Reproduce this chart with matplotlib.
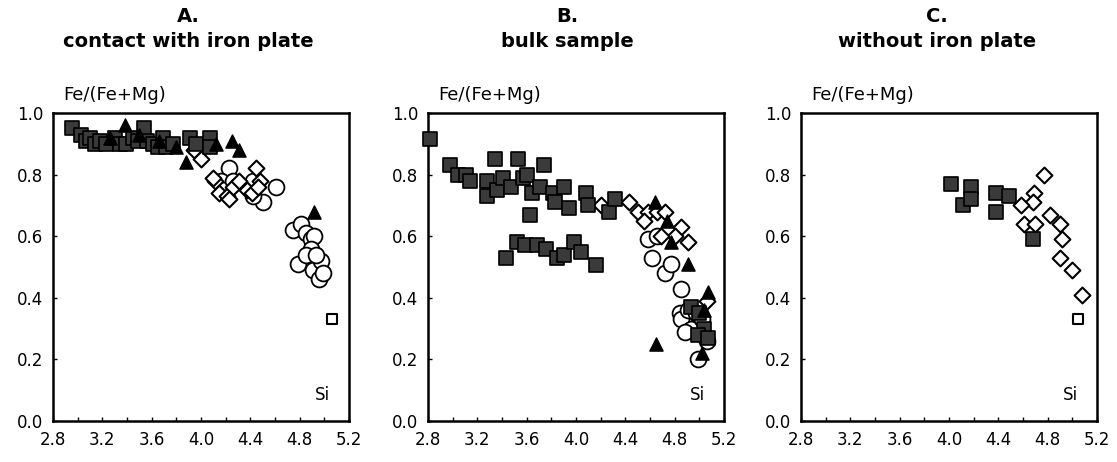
import matplotlib.pyplot as plt
import numpy as np

plt.rcParams["font.family"] = ["DejaVu Sans"]

# ---- panel A: contact with iron plate ----
a_sq_x = [2.95, 3.03, 3.07, 3.10, 3.14, 3.18, 3.23, 3.30, 3.34, 3.39, 3.45, 3.49, 3.54, 3.56, 3.61,
          3.65, 3.69, 3.72, 3.77, 3.91, 3.96, 4.07, 4.07]
a_sq_y = [0.95, 0.93, 0.91, 0.92, 0.90, 0.91, 0.90, 0.92, 0.90, 0.90, 0.92, 0.91, 0.95, 0.91, 0.90,
          0.89, 0.92, 0.89, 0.90, 0.92, 0.90, 0.92, 0.89]
a_tri_x = [3.38, 3.26, 3.50, 3.66, 3.80, 3.88, 4.12, 4.25, 4.31, 4.92]
a_tri_y = [0.96, 0.92, 0.93, 0.91, 0.89, 0.84, 0.90, 0.91, 0.88, 0.68]
a_dia_x = [3.94, 4.00, 4.11, 4.15, 4.21, 4.26, 4.31, 4.37, 4.41, 4.45, 4.48, 4.23, 4.10, 4.46]
a_dia_y = [0.88, 0.85, 0.78, 0.74, 0.73, 0.76, 0.78, 0.75, 0.74, 0.82, 0.78, 0.72, 0.79, 0.76]
a_cir_x = [4.23, 4.16, 4.18, 4.26, 4.42, 4.50, 4.61, 4.42, 4.75, 4.81, 4.85, 4.89, 4.92,
           4.79, 4.89, 4.91, 4.97, 4.96, 4.99, 4.85, 4.93]
a_cir_y = [0.82, 0.78, 0.75, 0.78, 0.78, 0.71, 0.76, 0.73, 0.62, 0.64, 0.61, 0.59, 0.60,
           0.51, 0.56, 0.49, 0.52, 0.46, 0.48, 0.54, 0.54]
a_osq_x = [5.06]
a_osq_y = [0.33]

# ---- panel B: bulk sample ----
b_sq_x = [2.82, 2.98, 3.04, 3.11, 3.14, 3.28, 3.34, 3.28, 3.36, 3.41, 3.47, 3.53, 3.57, 3.60,
          3.64, 3.63, 3.71, 3.74, 3.81, 3.83, 3.90, 3.94, 4.08, 4.10, 4.27, 4.32,
          3.43, 3.52, 3.59, 3.68, 3.76, 3.85, 3.90, 3.98, 4.04, 4.16,
          4.93, 5.00, 5.04, 4.99, 5.07]
b_sq_y = [0.915, 0.83, 0.80, 0.80, 0.78, 0.78, 0.85, 0.73, 0.75, 0.79, 0.76, 0.85, 0.79, 0.80,
          0.74, 0.67, 0.76, 0.83, 0.74, 0.71, 0.76, 0.69, 0.74, 0.70, 0.68, 0.72,
          0.53, 0.58, 0.57, 0.57, 0.56, 0.53, 0.54, 0.58, 0.55, 0.505,
          0.37, 0.35, 0.30, 0.28, 0.27]
b_tri_x = [4.65, 4.64, 4.74, 5.07, 5.02, 4.77, 4.91, 5.04]
b_tri_y = [0.25, 0.71, 0.65, 0.42, 0.22, 0.58, 0.51, 0.36]
b_dia_x = [4.20, 4.43, 4.50, 4.58, 4.66, 4.72, 4.85, 4.91, 4.80, 5.06, 4.55, 4.69]
b_dia_y = [0.70, 0.71, 0.68, 0.68, 0.68, 0.68, 0.63, 0.58, 0.60, 0.39, 0.65, 0.60]
b_cir_x = [4.58, 4.62, 4.66, 4.72, 4.77, 4.85, 4.84, 4.85, 4.91, 4.93, 4.97, 4.99, 5.04, 5.02, 4.88, 5.06]
b_cir_y = [0.59, 0.53, 0.60, 0.48, 0.51, 0.43, 0.35, 0.33, 0.36, 0.30, 0.35, 0.20, 0.28, 0.33, 0.29, 0.26]

# ---- panel C: without iron plate ----
c_sq_x = [4.02, 4.11, 4.18, 4.18, 4.38, 4.49, 4.38, 4.68]
c_sq_y = [0.77, 0.70, 0.76, 0.72, 0.74, 0.73, 0.68, 0.59]
c_dia_x = [4.77, 4.69, 4.68, 4.58, 4.61, 4.70, 4.82, 4.90, 4.92, 4.90, 5.00, 5.08]
c_dia_y = [0.80, 0.74, 0.71, 0.70, 0.64, 0.64, 0.67, 0.64, 0.59, 0.53, 0.49, 0.41]
c_osq_x = [5.05]
c_osq_y = [0.33]

titles = ["A.\ncontact with iron plate", "B.\nbulk sample", "C.\nwithout iron plate"]
title_x = [188, 567, 937]
ax_left = [53, 428, 801]

fig = plt.figure(figsize=(11.17, 4.62), dpi=100)
W, H = 1117, 462

panels = [
    dict(sq=(a_sq_x, a_sq_y), tri=(a_tri_x, a_tri_y), dia=(a_dia_x, a_dia_y),
         cir=(a_cir_x, a_cir_y), osq=(a_osq_x, a_osq_y)),
    dict(sq=(b_sq_x, b_sq_y), tri=(b_tri_x, b_tri_y), dia=(b_dia_x, b_dia_y),
         cir=(b_cir_x, b_cir_y)),
    dict(sq=(c_sq_x, c_sq_y), dia=(c_dia_x, c_dia_y), osq=(c_osq_x, c_osq_y)),
]

for i, p in enumerate(panels):
    ax = fig.add_axes([ax_left[i] / W, 1 - 421 / H, 296 / W, 308 / H])
    if "cir" in p:
        ax.scatter(*p["cir"], marker="o", s=130, facecolor="white", edgecolor="black",
                   linewidth=1.3, zorder=2, clip_on=False)
    if "dia" in p:
        ax.scatter(*p["dia"], marker="D", s=65, facecolor="white", edgecolor="black",
                   linewidth=1.5, zorder=3, clip_on=False)
    if "sq" in p:
        ax.scatter(*p["sq"], marker="s", s=90, facecolor="#3a3a3a", edgecolor="black",
                   linewidth=1.2, zorder=4, clip_on=False)
    if "tri" in p:
        ax.scatter(*p["tri"], marker="^", s=90, facecolor="black", edgecolor="black",
                   linewidth=1, zorder=5, clip_on=False)
    if "osq" in p:
        ax.scatter(*p["osq"], marker="s", s=45, facecolor="white", edgecolor="black",
                   linewidth=1.5, zorder=5, clip_on=False)

    ax.set_xlim(2.8, 5.2)
    ax.set_ylim(0.0, 1.0)
    ax.set_xticks(np.arange(2.8, 5.21, 0.4))
    ax.set_xticks(np.arange(2.8, 5.21, 0.2), minor=True)
    ax.set_yticks(np.arange(0.0, 1.01, 0.2))
    ax.xaxis.set_major_formatter(plt.FormatStrFormatter("%.1f"))
    ax.yaxis.set_major_formatter(plt.FormatStrFormatter("%.1f"))
    ax.tick_params(direction="in", length=3, width=1, labelsize=12, pad=7)
    ax.tick_params(which="minor", direction="in", length=3, width=1)
    for s in ax.spines.values():
        s.set_linewidth(1.8)
    ax.text(0.035, 1.058, "Fe/(Fe+Mg)", transform=ax.transAxes, fontsize=13, va="center", ha="left")
    ax.text(0.91, 0.085, "Si", transform=ax.transAxes, fontsize=12, va="center", ha="center")

    fig.text(title_x[i] / W, 1 - 29 / H, titles[i], ha="center", va="center",
             fontsize=14, fontweight="bold", linespacing=1.35)

fig.savefig("out.png", dpi=100)
